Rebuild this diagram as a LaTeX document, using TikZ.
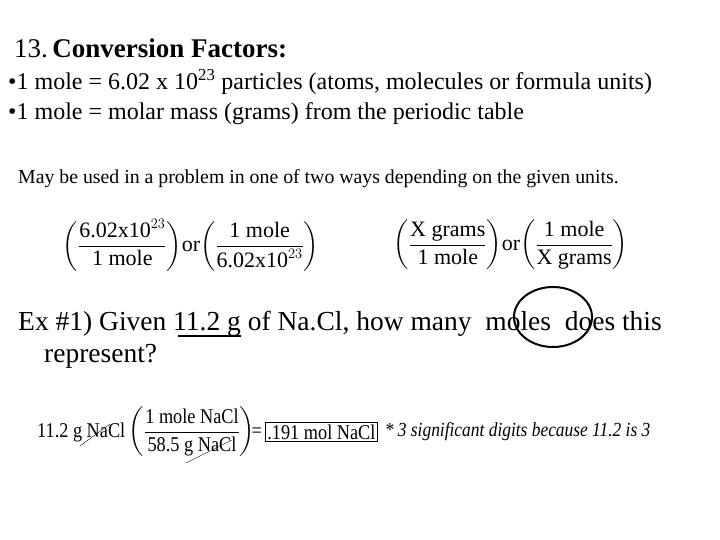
\documentclass[tikz,border=0pt]{standalone}
\usepackage{amsmath}
\usepackage{fontspec}
\setmainfont{Liberation Serif}
\newfontfamily\narrowf[FakeStretch=0.87]{Liberation Serif}
\usetikzlibrary{shapes.geometric}
\begin{document}
\begin{tikzpicture}[x=1pt,y=-1pt,
  txt/.style={anchor=base west,inner sep=0pt},
  eq/.style={inner sep=0pt,font=\fontsize{22}{26}\selectfont},
  beq/.style={inner sep=0pt,font=\narrowf\fontsize{21}{25}\selectfont}]
\useasboundingbox[fill=white] (0,0) rectangle (720,540);
\node[txt,font=\fontsize{27}{30}\selectfont] (t) at (14,58) {13.\,\textbf{Conversion Factors:}};
\node[txt,font=\fontsize{24}{28}\selectfont] (b1) at (8,90) {\textbullet1 mole = 6.02 x 10\textsuperscript{23} particles (atoms, molecules or formula units)};
\node[txt,font=\fontsize{24}{28}\selectfont] (b2) at (8,120) {\textbullet1 mole = molar mass (grams) from the periodic table};
\node[txt,font=\fontsize{19.8}{23}\selectfont] (m) at (18,184) {May be used in a problem in one of two ways depending on the given units.};
\node[eq] (f1) at (191,245) {$\left(\dfrac{\text{6.02x10}^{23}}{\text{1 mole}}\right)\!\text{or}\!\left(\dfrac{\text{1 mole}}{\text{6.02x10}^{23}}\right)$};
\node[eq] (f2) at (511,245) {$\left(\dfrac{\text{X grams}}{\text{1 mole}}\right)\!\text{or}\!\left(\dfrac{\text{1 mole}}{\text{X grams}}\right)$};
\node[txt,font=\fontsize{27.5}{31}\selectfont] (ex) at (18,330) {Ex \#1) Given 11.2 g of Na.Cl, how many\ \ moles\ \ does this};
\node[txt,font=\fontsize{27.5}{31}\selectfont] (ex2) at (44,362) {represent?};
\coordinate (u1) at (178,336); \coordinate (u2) at (241,336);
\draw[line width=1.2pt] (u1) -- (u2);
\node[draw,ellipse,line width=2pt,minimum width=78pt,minimum height=60pt,inner sep=0pt] (ov) at (553,317) {};
\node[beq,anchor=west] (e) at (37,432) {11.2 g NaCl\,$\left(\dfrac{\text{1 mole NaCl}}{\text{58.5 g NaCl}}\right)\!$=};
\node[draw,inner sep=2pt,anchor=west,font=\narrowf\fontsize{21}{25}\selectfont] (ans) at ([xshift=3pt]e.east) {.191 mol NaCl};
\node[anchor=west,inner sep=0pt,font=\narrowf\fontsize{20}{24}\itshape] (note) at ([xshift=7pt]ans.east) {* 3 significant digits because 11.2 is 3};
\coordinate (s1) at (80,446); \coordinate (s2) at (110,424);
\coordinate (s3) at (186,463); \coordinate (s4) at (232,440);
\draw (s1) -- (s2); \draw (s3) -- (s4);
\end{tikzpicture}
\end{document}
